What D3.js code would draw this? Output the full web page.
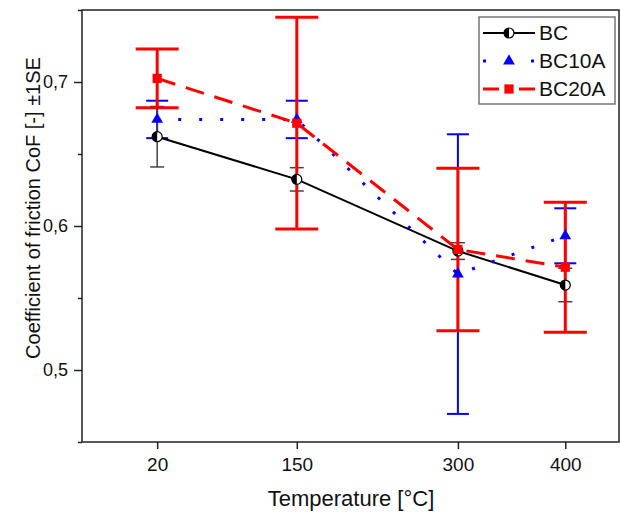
<!DOCTYPE html>
<html>
<head>
<meta charset="utf-8">
<script src="https://cdn.jsdelivr.net/npm/d3@7/dist/d3.min.js"></script>
<style>
body { margin: 0; background: #fff; }
text { font-family: Arial, "Liberation Sans", sans-serif; }
</style>
</head>
<body>
<div id="chart"></div>
<script>
// data
var temperatures = [20, 150, 300, 400];
var bcMean = [0.662, 0.6324, 0.5826, 0.559];
var bcSE = [0.021, 0.0081, 0.0058, 0.0116];
var bc10aMean = [0.674, 0.674, 0.5666, 0.5932];
var bc10aSE = [0.013, 0.013, 0.0971, 0.0191];
var bc20aMean = [0.7025, 0.6714, 0.5837, 0.5714];
var bc20aSE = [0.0204, 0.0735, 0.0564, 0.0451];
var yMajorTicks = [0.5, 0.6, 0.7];
var yMinorTicks = [0.45, 0.55, 0.65, 0.75];

var series = [
  { name: "BC", mean: bcMean, se: bcSE, color: "#000", barColor: "#444", barWidth: 1.5, cap: 14,
    dash: null, lineWidth: 2, marker: "circle" },
  { name: "BC10A", mean: bc10aMean, se: bc10aSE, color: "#0000ff", barColor: "#0000ff", barWidth: 2, cap: 22,
    dash: "3,18", lineWidth: 3, marker: "triangle" },
  { name: "BC20A", mean: bc20aMean, se: bc20aSE, color: "#ff0000", barColor: "#ff0000", barWidth: 3, cap: 43,
    dash: "19,11", lineWidth: 3, marker: "square" }
];

var width = 621, height = 512;
var plotLeft = 82, plotRight = 619, plotTop = 10, plotBottom = 442;

var svg = d3.select("#chart")
  .append("svg")
  .attr("width", width)
  .attr("height", height);

var x = d3.scaleLinear().domain([-50, 450]).range([plotLeft, plotRight]);
var y = d3.scaleLinear().domain([0.45, 0.75]).range([plotBottom, plotTop]);

function points(s) {
  return temperatures.map(function(t, i) { return { t: t, m: s.mean[i], se: s.se[i] }; });
}

// axes
var fmt = function(d) { return d3.format(".1f")(d).replace(".", ","); };

svg.append("g")
  .attr("transform", "translate(" + plotLeft + ",0)")
  .call(d3.axisLeft(y).tickValues(yMinorTicks).tickSize(4).tickFormat(""))
  .call(function(g) { g.select(".domain").remove(); });

svg.append("g")
  .attr("transform", "translate(" + plotLeft + ",0)")
  .call(d3.axisLeft(y).tickValues(yMajorTicks).tickSize(8).tickPadding(6).tickFormat(fmt))
  .call(function(g) { g.select(".domain").remove(); })
  .selectAll("text")
  .style("font-size", "18px")
  .attr("fill", "#111");

svg.append("g")
  .attr("transform", "translate(0," + plotBottom + ")")
  .call(d3.axisBottom(x).tickValues(temperatures).tickSize(7).tickPadding(9).tickFormat(d3.format("d")))
  .call(function(g) { g.select(".domain").remove(); })
  .selectAll("text")
  .style("font-size", "19px")
  .attr("fill", "#111");

svg.selectAll(".tick line").attr("stroke", "#222").attr("stroke-width", 1.5);

// frame
svg.append("rect")
  .attr("x", plotLeft)
  .attr("y", plotTop)
  .attr("width", plotRight - plotLeft)
  .attr("height", plotBottom - plotTop)
  .attr("fill", "none")
  .attr("stroke", "#222")
  .attr("stroke-width", 1.5);

// axis titles
svg.append("text")
  .attr("text-anchor", "middle")
  .attr("x", 351)
  .attr("y", 506)
  .style("font-size", "22px")
  .attr("fill", "#111")
  .text("Temperature [°C]");

svg.append("text")
  .attr("text-anchor", "middle")
  .attr("transform", "translate(40,208) rotate(-90)")
  .style("font-size", "20px")
  .attr("fill", "#111")
  .text("Coefficient of friction CoF [-] ±1SE");

// error bars (blue under, then black, then red)
var barOrder = [series[1], series[0], series[2]];
barOrder.forEach(function(s) {
  var g = svg.append("g")
    .attr("stroke", s.barColor)
    .attr("stroke-width", s.barWidth);
  var p = points(s);
  g.selectAll(".vbar").data(p).enter().append("line")
    .attr("x1", function(d) { return x(d.t); })
    .attr("x2", function(d) { return x(d.t); })
    .attr("y1", function(d) { return y(d.m - d.se); })
    .attr("y2", function(d) { return y(d.m + d.se); });
  g.selectAll(".capTop").data(p).enter().append("line")
    .attr("x1", function(d) { return x(d.t) - s.cap / 2; })
    .attr("x2", function(d) { return x(d.t) + s.cap / 2; })
    .attr("y1", function(d) { return y(d.m + d.se); })
    .attr("y2", function(d) { return y(d.m + d.se); });
  g.selectAll(".capBottom").data(p).enter().append("line")
    .attr("x1", function(d) { return x(d.t) - s.cap / 2; })
    .attr("x2", function(d) { return x(d.t) + s.cap / 2; })
    .attr("y1", function(d) { return y(d.m - d.se); })
    .attr("y2", function(d) { return y(d.m - d.se); });
});

// lines
series.forEach(function(s) {
  svg.append("path")
    .datum(points(s))
    .attr("fill", "none")
    .attr("stroke", s.color)
    .attr("stroke-width", s.lineWidth)
    .attr("stroke-dasharray", s.dash)
    .attr("d", d3.line()
      .x(function(d) { return x(d.t); })
      .y(function(d) { return y(d.m); })
    );
});

// markers
function drawMarker(g, s, cx, cy) {
  if (s.marker == "circle") {
    g.append("circle")
      .attr("cx", cx).attr("cy", cy).attr("r", 5)
      .attr("fill", "#fff").attr("stroke", "#000").attr("stroke-width", 1.2);
    g.append("path")
      .attr("transform", "translate(" + cx + "," + cy + ")")
      .attr("d", "M0,-5 A5,5 0 0 0 0,5 Z")
      .attr("fill", "#000");
  } else {
    var sym = s.marker == "triangle" ? d3.symbolTriangle : d3.symbolSquare;
    g.append("path")
      .attr("transform", "translate(" + cx + "," + cy + ")")
      .attr("d", d3.symbol().type(sym).size(s.marker == "triangle" ? 60 : 85)())
      .attr("fill", s.color);
  }
}

series.forEach(function(s) {
  var g = svg.append("g");
  points(s).forEach(function(d) { drawMarker(g, s, x(d.t), y(d.m)); });
});

// legend
var legend = svg.append("g");
legend.append("rect")
  .attr("x", 479).attr("y", 17)
  .attr("width", 136).attr("height", 87)
  .attr("fill", "#fff")
  .attr("stroke", "#777")
  .attr("stroke-width", 1.5);

series.forEach(function(s, i) {
  var ly = 33 + i * 28;
  legend.append("line")
    .attr("x1", 483).attr("x2", 535)
    .attr("y1", ly).attr("y2", ly)
    .attr("stroke", s.color)
    .attr("stroke-width", s.lineWidth)
    .attr("stroke-dasharray", s.marker == "triangle" ? "3,21" : (s.dash ? "16,20" : null));
  drawMarker(legend, s, 509, ly);
  legend.append("text")
    .attr("x", 539)
    .attr("y", ly + 7)
    .style("font-size", "21px")
    .attr("fill", "#111")
    .text(s.name);
});
</script>
</body>
</html>
